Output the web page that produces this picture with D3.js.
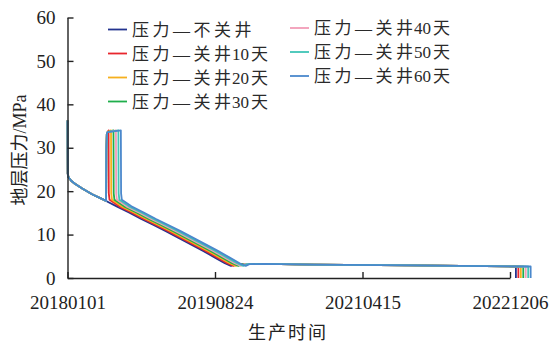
<!DOCTYPE html>
<html>
<head>
<meta charset="utf-8">
<script src="https://cdn.jsdelivr.net/npm/d3@7/dist/d3.min.js"></script>
<style>
  html, body { margin: 0; padding: 0; background: #fff; }
  svg { display: block; }
</style>
</head>
<body>
<svg id="chart" width="550" height="343"></svg>
<script>
// Production dates shown on the time axis (day offsets from 2018-01-01)
const tickDays = [0, 600, 1200, 1800];
const tickLabels = ["20180101", "20190824", "20210415", "20221206"];
const yTicks = [0, 10, 20, 30, 40, 50, 60];

// Series names
const seriesNames = ["压力—不关井", "压力—关井10天", "压力—关井20天", "压力—关井30天",
                     "压力—关井40天", "压力—关井50天", "压力—关井60天"];
const seriesColors = ["#23338f", "#e8262d", "#f6b01e", "#1fae4b", "#f29cb7", "#3fc4b6", "#4a88cc"];

// Formation pressure (MPa) vs. production day, one list per scenario: [day, pressure]
const pNoShut = [[0,36.3],[1,24.0],[4,23.2],[15,22.4],[30,21.7],[60,20.6],[100,19.3],[157,17.75],
  [200,16.5],[250,15.1],[300,13.6],[350,12.2],[400,10.8],[450,9.3],[500,7.8],[550,6.3],[600,4.7],
  [640,3.4],[665,2.8],[680,3.2],[800,3.25],[1000,3.1],[1400,2.9],[1824,2.65],[1824,0]];
const pShut10 = [[0,36.3],[1,24.0],[4,23.2],[15,22.4],[30,21.7],[60,20.6],[100,19.3],[157,17.75],
  [158,29.5],[160,33.2],[163,33.6],[167,34.0],[168,19.5],[171,18.0],
  [210,16.5],[260,15.1],[310,13.6],[360,12.2],[410,10.8],[460,9.3],[510,7.8],[560,6.3],[610,4.7],
  [650,3.4],[675,2.8],[690,3.2],[800,3.25],[1000,3.1],[1400,2.9],[1834,2.65],[1834,0]];
const pShut20 = [[0,36.3],[1,24.0],[4,23.2],[15,22.4],[30,21.7],[60,20.6],[100,19.3],[157,17.75],
  [158,29.5],[160,33.2],[163,33.6],[177,34.0],[178,19.5],[181,18.0],
  [220,16.5],[270,15.1],[320,13.6],[370,12.2],[420,10.8],[470,9.3],[520,7.8],[570,6.3],[620,4.7],
  [660,3.4],[685,2.8],[700,3.2],[800,3.25],[1000,3.1],[1400,2.9],[1844,2.65],[1844,0]];
const pShut30 = [[0,36.3],[1,24.0],[4,23.2],[15,22.4],[30,21.7],[60,20.6],[100,19.3],[157,17.75],
  [158,29.5],[160,33.2],[163,33.6],[187,34.0],[188,19.5],[191,18.0],
  [230,16.5],[280,15.1],[330,13.6],[380,12.2],[430,10.8],[480,9.3],[530,7.8],[580,6.3],[630,4.7],
  [670,3.4],[695,2.8],[710,3.2],[800,3.25],[1000,3.1],[1400,2.9],[1854,2.65],[1854,0]];
const pShut40 = [[0,36.3],[1,24.0],[4,23.2],[15,22.4],[30,21.7],[60,20.6],[100,19.3],[157,17.75],
  [158,29.5],[160,33.2],[163,33.6],[197,34.0],[198,19.5],[201,18.0],
  [240,16.5],[290,15.1],[340,13.6],[390,12.2],[440,10.8],[490,9.3],[540,7.8],[590,6.3],[640,4.7],
  [680,3.4],[705,2.8],[720,3.2],[800,3.25],[1000,3.1],[1400,2.9],[1864,2.65],[1864,0]];
const pShut50 = [[0,36.3],[1,24.0],[4,23.2],[15,22.4],[30,21.7],[60,20.6],[100,19.3],[157,17.75],
  [158,29.5],[160,33.2],[163,33.6],[207,34.0],[208,19.5],[211,18.0],
  [250,16.5],[300,15.1],[350,13.6],[400,12.2],[450,10.8],[500,9.3],[550,7.8],[600,6.3],[650,4.7],
  [690,3.4],[715,2.8],[730,3.2],[800,3.25],[1000,3.1],[1400,2.9],[1874,2.65],[1874,0]];
const pShut60 = [[0,36.3],[1,24.0],[4,23.2],[15,22.4],[30,21.7],[60,20.6],[100,19.3],[157,17.75],
  [158,29.5],[160,33.2],[163,33.6],[217,34.0],[218,19.5],[221,18.0],
  [260,16.5],[310,15.1],[360,13.6],[410,12.2],[460,10.8],[510,9.3],[560,7.8],[610,6.3],[660,4.7],
  [700,3.4],[725,2.8],[740,3.2],[800,3.25],[1000,3.1],[1400,2.9],[1884,2.65],[1884,0]];

const seriesData = [pNoShut, pShut10, pShut20, pShut30, pShut40, pShut50, pShut60];

const svg = d3.select("#chart");
const numFont = "'Liberation Serif', 'Times New Roman', serif";
const cjkFont = "'Liberation Serif', 'Noto Sans CJK SC', serif";

const x = d3.scaleLinear().domain([0, 1800]).range([67.5, 510]);
const y = d3.scaleLinear().domain([0, 60]).range([278, 17.5]);

// Curves
const line = d3.line().x(d => x(d[0])).y(d => y(d[1]));
svg.append("g").selectAll("path").data(seriesData).join("path")
  .attr("d", line)
  .attr("fill", "none")
  .attr("stroke", (d, i) => seriesColors[i])
  .attr("stroke-width", 1.8)
  .attr("stroke-linejoin", "round");

// Axes with inward ticks
const axisColor = "#222";
const yAxis = svg.append("g").attr("transform", `translate(${x(0)},0)`)
  .call(d3.axisLeft(y).tickValues(yTicks).tickSizeInner(-6).tickSizeOuter(0).tickPadding(12));
const xAxis = svg.append("g").attr("transform", `translate(0,${y(0)})`)
  .call(d3.axisBottom(x).tickValues(tickDays).tickFormat((d, i) => tickLabels[i])
    .tickSizeInner(-6).tickSizeOuter(0).tickPadding(18));
[yAxis, xAxis].forEach(g => {
  g.select(".domain").attr("stroke", axisColor).attr("stroke-width", 1.4);
  g.selectAll(".tick line").attr("stroke", axisColor).attr("stroke-width", 1.4);
  g.selectAll(".tick text").attr("fill", "#222").style("font-family", numFont).style("font-size", "19px");
});

// Axis titles
svg.append("text")
  .attr("transform", "translate(20,150) rotate(-90)")
  .attr("text-anchor", "middle").attr("dy", "0.35em")
  .style("font-family", cjkFont).style("font-size", "18px").attr("fill", "#222")
  .text("地层压力/MPa");
svg.append("text")
  .attr("x", 288).attr("y", 333)
  .attr("text-anchor", "middle").attr("dy", "0.35em")
  .style("font-family", cjkFont).style("font-size", "18px").style("letter-spacing", "2px")
  .attr("fill", "#222")
  .text("生产时间");

// Legend: two columns
const legendPos = [
  [108, 29.5], [108, 53.5], [108, 77.5], [108, 101.5],
  [290, 28], [290, 52], [290, 76]
];
const legend = svg.append("g").selectAll("g").data(seriesNames).join("g")
  .attr("transform", (d, i) => `translate(${legendPos[i][0]},${legendPos[i][1]})`);
legend.append("line")
  .attr("x1", 0).attr("x2", 19).attr("y1", 0).attr("y2", 0)
  .attr("stroke", (d, i) => seriesColors[i]).attr("stroke-width", 1.8);
legend.each(function(name) {
  const t = d3.select(this).append("text")
    .attr("x", 24).attr("dy", "0.36em")
    .attr("fill", "#2a2a2a")
    .style("font-size", "17px").style("font-family", cjkFont);
  const m = name.match(/^(.*?)(\d*)(天?)$/);
  const head = m[1], num = m[2], tail = m[3];
  if (!num) {
    t.append("tspan").style("letter-spacing", "3.5px").text(head);
  } else {
    t.append("tspan").style("letter-spacing", "3.5px").text(head.slice(0, -1));
    t.append("tspan").text(head.slice(-1));
    t.append("tspan").attr("dx", 1).style("font-family", numFont).text(num);
    t.append("tspan").attr("dx", 2).text(tail);
  }
});
</script>
</body>
</html>
